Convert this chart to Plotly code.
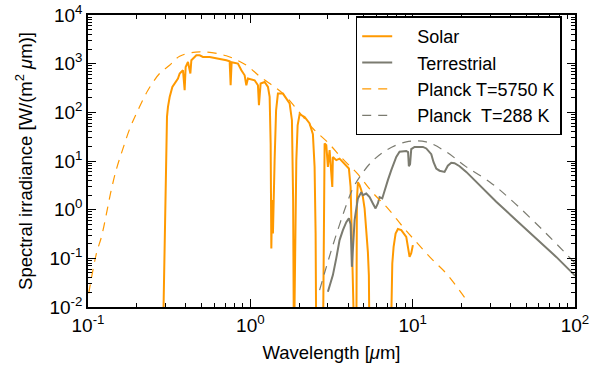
import plotly.graph_objects as go

# ---- data ----
solar_wl = [0.2884, 0.2925, 0.2967, 0.3009, 0.304, 0.3066, 0.3109, 0.3185, 0.3309, 0.342,
            0.3583, 0.3671, 0.3846, 0.3939, 0.3996, 0.4129, 0.4271, 0.4332, 0.4650, 0.4873,
            0.5105, 0.5615, 0.6471, 0.7114, 0.7455, 0.7562, 0.7671, 0.8387, 0.8806, 0.9224,
            0.9449, 0.9665, 1.063, 1.114, 1.130, 1.157, 1.225, 1.284, 1.315, 1.334,
            1.347, 1.362, 1.378, 1.392, 1.411, 1.441, 1.479, 1.588, 1.746, 1.804,
            1.835, 1.856, 1.888, 1.901, 1.920, 1.956, 2.012, 2.160, 2.318, 2.429,
            2.488, 2.524, 2.549, 2.799, 2.835, 2.868, 2.938, 3.005, 3.078, 3.198,
            3.225, 3.385, 3.546, 3.808, 4.047, 4.146, 4.206, 4.284, 4.389, 4.495,
            4.534, 4.599, 4.710, 4.826, 4.934, 5.055, 5.178, 5.299, 5.373, 5.429,
            7.31, 7.49, 7.63, 7.85, 8.11, 8.51, 9.13, 9.34, 9.57, 9.80, 10.03]
solar_irr = [0.001, 0.012, 0.237, 5.6, 26.7, 80.5, 129, 207, 333, 390,
             494, 627, 731, 284, 855, 1084, 627, 1174, 1486, 1486,
             1375, 1375, 1274, 1174, 1119, 360, 1069, 1005, 731, 578,
             360, 494, 456, 360, 140, 390, 421, 333, 207, 22.9,
             0.16, 1.57, 0.324, 2.51, 10.4, 110, 243, 243, 152, 68.9,
             1.57, 0.001, 0.063, 1.57, 10.4, 54.3, 91.4, 80.5, 58.9, 35.5,
             7.57, 0.324, 0.001, 0.001, 1.57, 22.9, 21.1, 7.57, 16.7, 2.94,
             12.1, 10.4, 11.2, 8.89, 7.01, 2.94, 0.324, 0.0669, 0.001, 0.001,
             1.57, 3.67, 3.19, 2.51, 1.83, 1.07, 0.419, 0.134, 0.045, 0.001,
             0.001, 0.0785, 0.172, 0.324, 0.40, 0.379, 0.276, 0.187, 0.107, 0.128, 0.187]

terr_wl = [3.005, 3.155, 3.225, 3.385, 3.546, 3.718, 3.900, 4.047, 4.146, 4.223,
           4.284, 4.389, 4.450, 4.599, 4.826, 4.934, 5.178, 5.429, 5.687, 5.908,
           6.104, 6.253, 6.497, 6.722, 7.036, 7.383, 7.925, 8.305, 9.13, 9.37,
           9.475, 9.64, 9.80, 10.27, 11.56, 12.13, 13.02, 13.45, 13.97, 14.64,
           15.72, 16.47, 17.29, 18.11, 19.45, 21.38, 24.64, 27.06, 32.72, 43.45,
           57.70, 76.62, 100.0]
terr_irr = [0.0205, 0.0357, 0.0452, 0.101, 0.237, 0.379, 0.553, 0.668, 0.504, 0.0669,
            0.172, 0.608, 0.836, 1.70, 2.29, 1.99, 2.15, 1.81, 1.34, 1.06,
            1.34, 1.81, 1.70, 2.51, 4.04, 6.47, 12.1, 15.5, 16.1, 15.2,
            7.82, 8.60, 17.5, 19.5, 19.5, 18.1, 13.8, 9.45, 7.01, 6.32,
            5.97, 8.01, 9.23, 9.02, 7.82, 5.97, 3.72, 2.72, 1.45, 0.608,
            0.256, 0.107, 0.0441]

planck_sun_wl = [0.101, 0.1127, 0.121, 0.130, 0.139, 0.150, 0.163, 0.181, 0.203, 0.234,
                 0.276, 0.318, 0.367, 0.488, 0.711, 0.945, 1.14, 1.59, 1.96, 2.43,
                 3.01, 3.72, 4.60, 5.62, 7.03, 8.71, 10.5, 13.0, 16.1, 21.1]
planck_sun_irr = [0.019, 0.126, 0.276, 0.836, 2.51, 7.0, 16.7, 46.5, 110, 284,
                  627, 927, 1420, 1755, 1453, 927, 551, 243, 110, 46.5,
                  23.8, 10.9, 5.36, 2.32, 1.06, 0.443, 0.218, 0.0995, 0.049, 0.015]

planck_earth_wl = [2.67, 2.94, 3.30, 3.90, 4.28, 4.71, 5.56, 6.88, 9.13, 12.1,
                   16.1, 21.4, 29.8, 39.5, 63.4, 100.0]
planck_earth_irr = [0.0222, 0.0669, 0.237, 1.24, 2.72, 4.65, 9.45, 16.7, 24.7, 24.7,
                    15.4, 7.57, 3.72, 1.70, 0.379, 0.0797]

x_tickvals = [0.1, 1, 10, 100]
x_ticktext = ["10<sup>-1</sup>", "10<sup>0</sup>", "10<sup>1</sup>", "10<sup>2</sup>"]
y_tickvals = [0.01, 0.1, 1, 10, 100, 1000, 10000]
y_ticktext = ["10<sup>-2</sup>", "10<sup>-1</sup>", "10<sup>0</sup>", "10<sup>1</sup>",
              "10<sup>2</sup>", "10<sup>3</sup>", "10<sup>4</sup>"]

ORANGE = "#ff9900"
GRAY = "#7b7b70"
PAD = "\u00a0\u00a0\u00a0\u00a0"

fig = go.Figure()
fig.add_trace(go.Scatter(x=solar_wl, y=solar_irr, mode="lines", name=PAD + "Solar",
                         legendgroup="a", line=dict(color=ORANGE, width=2)))
fig.add_trace(go.Scatter(x=terr_wl, y=terr_irr, mode="lines", name=PAD + "Terrestrial",
                         legendgroup="b", line=dict(color=GRAY, width=2)))
fig.add_trace(go.Scatter(x=planck_sun_wl, y=planck_sun_irr, mode="lines", name=PAD + "Planck T=5750 K",
                         legendgroup="c", line=dict(color=ORANGE, width=1.2, dash="9px,7px", shape="spline")))
fig.add_trace(go.Scatter(x=planck_earth_wl, y=planck_earth_irr, mode="lines", name=PAD + "Planck\u00a0 T=288 K",
                         legendgroup="d", line=dict(color=GRAY, width=1.2, dash="9px,7px", shape="spline")))

minor_vals = []
for dec in [0.001, 0.01, 0.1, 1, 10, 100, 1000]:
    for m in range(2, 10):
        minor_vals.append(m * dec)

axis_common = dict(type="log", showgrid=False, zeroline=False, showline=True, automargin=False,
                   linecolor="black", linewidth=1.5, mirror="allticks",
                   ticks="inside", ticklen=8, tickwidth=1.2, tickcolor="black",
                   tickfont=dict(size=19, color="black"),
                   minor=dict(ticks="inside", ticklen=4, tickwidth=1, tickcolor="black",
                              tickmode="array", tickvals=minor_vals, showgrid=False))

fig.update_xaxes(range=[-1, 2], tickmode="array", tickvals=x_tickvals, ticktext=x_ticktext,
                 title=dict(text="Wavelength [<i>μ</i>m]", font=dict(size=18.5, color="black"), standoff=12),
                 **axis_common)
fig.update_yaxes(range=[-2, 4], tickmode="array", tickvals=y_tickvals, ticktext=y_ticktext,
                 title=dict(text="Spectral irradiance [W/(m<sup>2</sup> <i>μ</i>m)]",
                            font=dict(size=18.5, color="black"), standoff=12),
                 **axis_common)

fig.update_layout(
    width=600, height=372,
    margin=dict(l=88, r=25, t=15, b=65),
    paper_bgcolor="white", plot_bgcolor="white",
    font=dict(family="Liberation Sans, Arial, sans-serif", color="black"),
    legend=dict(x=0.5497, y=0.995, xanchor="left", yanchor="top",
                bordercolor="black", borderwidth=1.5, bgcolor="white",
                font=dict(size=18, color="black"), tracegroupgap=0,
                traceorder="grouped"),
)

fig.write_html("out.html", config={"displayModeBar": False},
               post_script="document.body.style.margin='0';document.body.style.overflow='hidden';")
